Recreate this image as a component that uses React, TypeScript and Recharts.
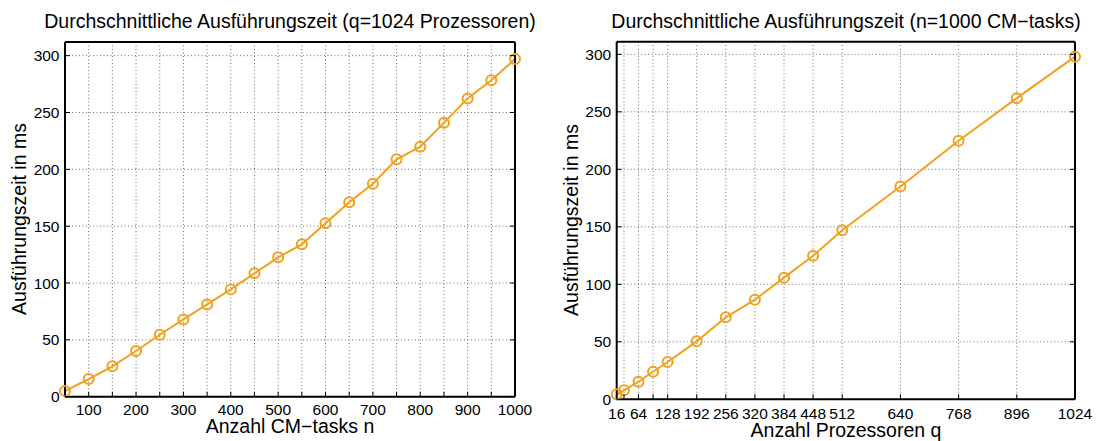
import React from "react";
import { LineChart, Line, XAxis, YAxis, CartesianGrid } from "recharts";

// Zwei MATLAB-artige Plots nebeneinander: Rahmen mit Ticks nach innen,
// gepunktetes Gitter, orange Linie mit offenen Kreisen.
const FONT = '"Liberation Sans", Arial, Helvetica, sans-serif';
const ORANGE = "#F2A01E";
const TICK_FONT = 15.5;

// linker Plot: q = 1024 Prozessoren, n variiert
const TASKS_N = [50, 100, 150, 200, 250, 300, 350, 400, 450, 500, 550, 600, 650, 700, 750, 800, 850, 900, 950, 1000];
const TIME_BY_N = [5, 15.5, 26.7, 40.2, 54.5, 68, 81.2, 94.4, 108.5, 122.6, 134, 152.5, 171, 187.3, 208.8, 219.9, 241, 262.4, 278.3, 297];
const LEFT_X_TICKS = [50, 100, 150, 200, 250, 300, 350, 400, 450, 500, 550, 600, 650, 700, 750, 800, 850, 900, 950, 1000];
const LEFT_X_LABELS = [100, 200, 300, 400, 500, 600, 700, 800, 900, 1000];

// rechter Plot: n = 1000 CM-tasks, q variiert
const PROCS_Q = [16, 32, 64, 96, 128, 192, 256, 320, 384, 448, 512, 640, 768, 896, 1024];
const TIME_BY_Q = [4.3, 7.8, 15.3, 24, 32.4, 50.4, 71.3, 86.6, 105.8, 124.9, 147.1, 185, 224.9, 261.9, 298];
const RIGHT_X_TICKS = [16, 32, 64, 96, 128, 192, 256, 320, 384, 448, 512, 640, 768, 896, 1024];
const RIGHT_X_LABELS = [16, 64, 128, 192, 256, 320, 384, 448, 512, 640, 768, 896, 1024];

const Y_TICKS = [0, 50, 100, 150, 200, 250, 300];

const leftData = TASKS_N.map((x, i) => ({ x, y: TIME_BY_N[i] }));
const rightData = PROCS_Q.map((x, i) => ({ x, y: TIME_BY_Q[i] }));

interface TickProps {
  x?: number;
  y?: number;
  payload?: { value?: number };
}

const TICK_LEN = 5;

function bottomTick(gap: number, labels: number[]) {
  return ({ x = 0, y = 0, payload }: TickProps) => {
    const v = payload?.value ?? 0;
    return (
      <g>
        <line x1={x} x2={x} y1={y - gap} y2={y - gap - TICK_LEN} stroke="#000" strokeWidth={1} />
        {labels.includes(v) && (
          <text x={x} y={y} dy="0.71em" textAnchor="middle" fill="#000" fontSize={TICK_FONT} fontFamily={FONT}>
            {v}
          </text>
        )}
      </g>
    );
  };
}

function topTick({ x = 0, y = 0 }: TickProps) {
  return <line x1={x} x2={x} y1={y} y2={y + TICK_LEN} stroke="#000" strokeWidth={1} />;
}

function leftTick(gap: number) {
  return ({ x = 0, y = 0, payload }: TickProps) => (
    <g>
      <line x1={x + gap} x2={x + gap + TICK_LEN} y1={y} y2={y} stroke="#000" strokeWidth={1} />
      <text x={x} y={y} dy="0.355em" textAnchor="end" fill="#000" fontSize={TICK_FONT} fontFamily={FONT}>
        {payload?.value}
      </text>
    </g>
  );
}

function rightTick({ x = 0, y = 0 }: TickProps) {
  return <line x1={x} x2={x - TICK_LEN} y1={y} y2={y} stroke="#000" strokeWidth={1} />;
}

const FRAME = { stroke: "#000", strokeWidth: 2 };

interface PanelProps {
  left: number;
  width: number;
  margin: { top: number; right: number; bottom: number; left: number };
  yAxisWidth: number;
  data: { x: number; y: number }[];
  xDomain: [number, number];
  yDomain: [number, number];
  xTicks: number[];
  xLabels: number[];
  xGap: number;
}

function Panel(p: PanelProps) {
  return (
    <div style={{ position: "absolute", left: p.left, top: 0 }}>
      <LineChart width={p.width} height={441} data={p.data} margin={p.margin}>
        <CartesianGrid stroke="#6e6e6e" strokeDasharray="1 2.5" strokeWidth={1} />
        <XAxis
          dataKey="x"
          type="number"
          domain={p.xDomain}
          ticks={p.xTicks}
          interval={0}
          height={30}
          tickSize={0}
          tickMargin={p.xGap}
          tickLine={false}
          axisLine={FRAME}
          tick={bottomTick(p.xGap, p.xLabels)}
        />
        <XAxis
          xAxisId="top"
          orientation="top"
          type="number"
          domain={p.xDomain}
          allowDataOverflow
          ticks={p.xTicks}
          interval={0}
          height={1}
          tickSize={0}
          tickMargin={0}
          tickLine={false}
          axisLine={FRAME}
          tick={topTick}
        />
        <YAxis
          type="number"
          domain={p.yDomain}
          ticks={Y_TICKS}
          interval={0}
          width={p.yAxisWidth}
          tickSize={0}
          tickMargin={5.5}
          tickLine={false}
          axisLine={FRAME}
          tick={leftTick(5.5)}
        />
        <YAxis
          yAxisId="right"
          orientation="right"
          type="number"
          domain={p.yDomain}
          allowDataOverflow
          ticks={Y_TICKS}
          interval={0}
          width={1}
          tickSize={0}
          tickMargin={0}
          tickLine={false}
          axisLine={FRAME}
          tick={rightTick}
        />
        <Line
          dataKey="y"
          type="linear"
          stroke={ORANGE}
          strokeWidth={2}
          dot={{ r: 5, stroke: ORANGE, strokeWidth: 2, fill: "none" }}
          isAnimationActive={false}
        />
      </LineChart>
    </div>
  );
}

export default function App() {
  return (
    <div style={{ position: "absolute", left: 0, top: 0, width: 1101, height: 441, background: "#fff", fontFamily: FONT }}>
      <Panel
        left={0}
        width={540}
        margin={{ top: 41, right: 24, bottom: 14.3, left: 0 }}
        yAxisWidth={65}
        data={leftData}
        xDomain={[50, 1000]}
        yDomain={[0, 312]}
        xTicks={LEFT_X_TICKS}
        xLabels={LEFT_X_LABELS}
        xGap={7.5}
      />
      <Panel
        left={550}
        width={551}
        margin={{ top: 40.7, right: 25, bottom: 11.7, left: 0 }}
        yAxisWidth={66.7}
        data={rightData}
        xDomain={[16, 1024]}
        yDomain={[0, 311]}
        xTicks={RIGHT_X_TICKS}
        xLabels={RIGHT_X_LABELS}
        xGap={8.5}
      />
      <svg width={1101} height={441} style={{ position: "absolute", left: 0, top: 0, pointerEvents: "none" }}>
        <g fontFamily={FONT} fill="#000">
          <text x={290} y={28} fontSize={19.5} textAnchor="middle">
            Durchschnittliche Ausführungszeit (q=1024 Prozessoren)
          </text>
          <text x={846} y={28} fontSize={19.5} textAnchor="middle">
            Durchschnittliche Ausführungszeit (n=1000 CM−tasks)
          </text>
          <text x={290} y={433} fontSize={19.5} textAnchor="middle">
            Anzahl CM−tasks n
          </text>
          <text x={846} y={437} fontSize={19.5} textAnchor="middle">
            Anzahl Prozessoren q
          </text>
          <text x={26} y={219} fontSize={19.5} textAnchor="middle" transform="rotate(-90 26 219)">
            Ausführungszeit in ms
          </text>
          <text x={578} y={220} fontSize={19.5} textAnchor="middle" transform="rotate(-90 578 220)">
            Ausführungszeit in ms
          </text>
        </g>
      </svg>
    </div>
  );
}
